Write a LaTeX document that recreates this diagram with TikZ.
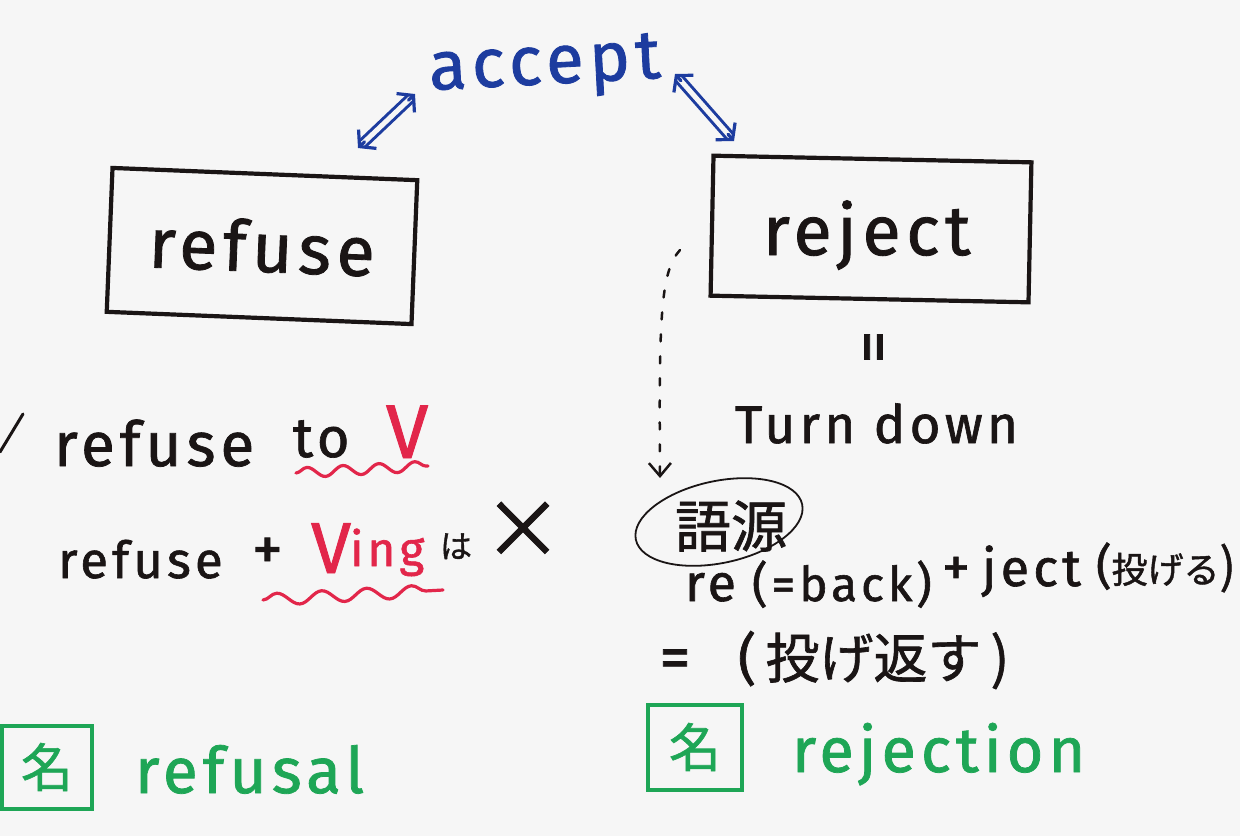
\documentclass[tikz,border=0pt]{standalone}
\usepackage{fontspec}
\setmainfont[LetterSpace=8, FakeBold=1.2]{Fira Sans}
\newfontfamily\cjk[FakeBold=1.2]{Noto Sans CJK JP}
\usetikzlibrary{arrows.meta,decorations.pathmorphing,shapes.geometric,calc}
\definecolor{ink}{HTML}{1A1515}
\definecolor{blueink}{HTML}{1D3C9F}
\definecolor{redink}{HTML}{E2264A}
\definecolor{greenink}{HTML}{1EA656}
\definecolor{board}{HTML}{F6F6F6}
\newcommand\fsz[1]{\fontsize{#1}{#1}\selectfont}
\begin{document}
\begin{tikzpicture}[x=1pt,y=-1pt,
  txt/.style={inner sep=0pt, outer sep=0pt, text=ink, anchor=base west},
  boxframe/.style={draw=ink, line width=4.2pt, inner sep=0pt, text=ink},
  gframe/.style={draw=greenink, line width=4pt, inner sep=0pt, text=greenink},
  dblshaft/.style={draw=blueink, line width=3pt, double=board, double distance=5pt, shorten <=5pt, shorten >=5pt},
  barb/.style={draw=blueink, line width=3.2pt, line cap=round, -{Straight Barb[length=11pt,width=26pt,line width=3.2pt]}},
  wavy/.style={draw=redink, line width=3.2pt, line cap=round, decorate, decoration={snake, amplitude=5pt, segment length=36pt}},
  dots/.style={draw=ink, line width=2.5pt, line cap=round, dash pattern=on 7pt off 15pt},
  ]
\fill[board] (0,0) rectangle (1240,836);
\useasboundingbox (0,0) rectangle (1240,836);

% top
\node[txt, text=blueink, rotate=3] (accept) at (430,90) {\fsz{69}accept};
\coordinate (la1) at (358,148);
\coordinate (la2) at (415,94);
\coordinate (ra1) at (675,74);
\coordinate (ra2) at (734,141);
\draw[dblshaft] (la1) -- (la2);
\draw[barb] ($(la1)!9pt!(la2)$) -- (la1);
\draw[barb] ($(la2)!9pt!(la1)$) -- (la2);
\draw[dblshaft] (ra1) -- (ra2);
\draw[barb] ($(ra1)!9pt!(ra2)$) -- (ra1);
\draw[barb] ($(ra2)!9pt!(ra1)$) -- (ra2);

% boxes
\node[boxframe, minimum width=305pt, minimum height=144pt, rotate=-2.3] (refusebox) at (262,246) {\fsz{70}refuse};
\node[boxframe, minimum width=318pt, minimum height=140pt, rotate=-1.2] (rejectbox) at (871,229) {};
\node[txt] (rejecttxt) at (763,255) {\fsz{70}reject};

% right column
\node[txt, anchor=center, rotate=90] (eqv) at (880,347) {\fsz{66}=};
\node[txt] (turndown) at (735,443) {\fsz{53}Turn down};

\coordinate (d1) at (680,250);
\coordinate (d2) at (660,478);
\draw[dots, -{Straight Barb[length=13pt,width=22pt,line width=2.5pt]}] (d1) .. controls (660,272) and (659,320) .. (d2);

\node[draw=ink, line width=1.8pt, ellipse, minimum width=170pt, minimum height=82pt, rotate=12] (ell) at (719,522) {};
\node[txt, anchor=center] (gogen) at (731,526) {\cjk\fsz{56}語源};

\node[txt] (re) at (685,601) {\fsz{52}re};
\node[txt] (back) at (752,601) {\fsz{48}(=back)};
\node[txt] (plus2) at (942,586) {\fsz{56}+};
\node[txt] (ject) at (982,586) {\fsz{52}ject};
\node[txt] (nageru) at (1096,583) {\fsz{48}(\cjk\fsz{36}投げる\fsz{48})};

\node[txt, anchor=center] (eq2) at (675,664) {\fsz{62}=};
\node[txt, anchor=west] (nagekaesu) at (738,660) {\fsz{56}(\,\cjk\fsz{54}投げ返す\,\fsz{56})};

% left column
\coordinate (ck1) at (0,452);
\coordinate (ck2) at (23,414);
\draw[ink, line width=3pt, line cap=round] (ck1) -- (ck2);

\node[txt] (ref1) at (54,466) {\fsz{62}refuse};
\node[txt] (to) at (293,457) {\fsz{56}to};
\node[txt, text=redink] (v1) at (386,458) {\fsz{76}V};
\coordinate (w1a) at (296,473);
\coordinate (w1b) at (428,466);
\draw[wavy] (w1a) -- (w1b);

\node[txt] (ref2) at (58,578) {\fsz{51}refuse};
\node[txt] (plus1) at (252,570) {\fsz{62}+};
\node[txt, text=redink] (v2) at (311,573) {\fsz{72}V};
\node[txt, text=redink] (ing) at (350,566) {\fsz{48}ing};
\node[txt] (ha) at (440,558) {\cjk\fsz{32}は};
\node[txt, anchor=center] (batsu) at (523,530) {\cjk\fsz{80}×};
\coordinate (w2a) at (263,600);
\coordinate (w2b) at (443,590);
\draw[wavy, decoration={snake, amplitude=6pt, segment length=45pt}] (w2a) -- (w2b);

% bottom
\node[gframe, minimum width=90pt, minimum height=83pt] (mei1) at (47,767) {\cjk\fsz{52}名};
\node[txt, text=greenink] (refusal) at (135,793) {\fsz{64}refusal};
\node[gframe, minimum width=94pt, minimum height=85pt] (mei2) at (695,747) {\cjk\fsz{52}名};
\node[txt, text=greenink] (rejection) at (792,772) {\fsz{63}rejection};
\end{tikzpicture}
\end{document}
